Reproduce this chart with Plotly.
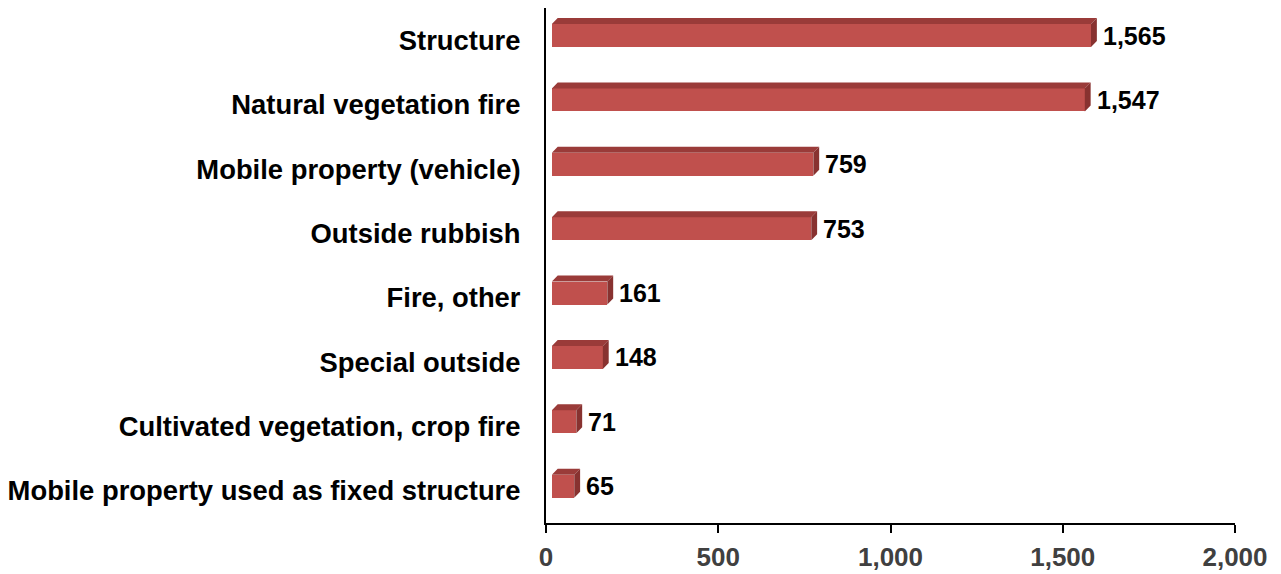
import plotly.graph_objects as go

categories = ["Structure", "Natural vegetation fire", "Mobile property (vehicle)",
              "Outside rubbish", "Fire, other", "Special outside",
              "Cultivated vegetation, crop fire", "Mobile property used as fixed structure"]
values = [1565, 1547, 759, 753, 161, 148, 71, 65]
x_ticks = [0, 500, 1000, 1500, 2000]
x_tick_labels = ["0", "500", "1,000", "1,500", "2,000"]

FRONT = "#C0504D"
TOP = "#9A3B39"
SIDE = "#883230"
FONT = "Liberation Sans, Arial"

ypos = list(range(len(categories)))
base = 17          # data-unit gap from axis to bar front face
dx = 17            # 3D depth in x (data units)
dy = 0.093         # 3D depth in y (category units)
shift = 0.072      # bar shifted up within band
half = 0.179       # half height of front face

fig = go.Figure()

# front faces
fig.add_trace(go.Bar(
    y=[y - shift for y in ypos], x=values, base=base, orientation="h",
    width=2 * half, marker=dict(color=FRONT, line=dict(width=0)),
    hoverinfo="skip", showlegend=False))

# top faces
tx, ty = [], []
for y, v in zip(ypos, values):
    yt = y - shift - half
    tx += [base, base + v, base + v + dx, base + dx, base, None]
    ty += [yt, yt, yt - dy, yt - dy, yt, None]
fig.add_trace(go.Scatter(x=tx, y=ty, fill="toself", fillcolor=TOP, mode="lines",
                         line=dict(width=0, color=TOP), hoverinfo="skip", showlegend=False))

# side faces
sx, sy = [], []
for y, v in zip(ypos, values):
    yt = y - shift - half
    yb = y - shift + half
    xr = base + v
    sx += [xr, xr + dx, xr + dx, xr, xr, None]
    sy += [yt, yt - dy, yb - dy, yb, yt, None]
fig.add_trace(go.Scatter(x=sx, y=sy, fill="toself", fillcolor=SIDE, mode="lines",
                         line=dict(width=0, color=SIDE), hoverinfo="skip", showlegend=False))

for y, v in zip(ypos, values):
    fig.add_annotation(x=base + v + dx, y=y - shift, text=f"<b>{v:,}</b>",
                       xanchor="left", yanchor="middle", showarrow=False, xshift=4,
                       font=dict(family=FONT, size=25, color="#000000"))

# page body has an 8px margin, so the figure is sized and offset to compensate
fig.update_layout(
    width=1273, height=566,
    margin=dict(l=538, r=46, t=0, b=51, autoexpand=False),
    paper_bgcolor="white", plot_bgcolor="white",
    font=dict(family=FONT, color="#000000"),
    bargap=0,
)
fig.update_xaxes(range=[0, 2000], tickvals=x_ticks,
                 ticktext=[f"<b>{t}</b>" for t in x_tick_labels], automargin=False,
                 showgrid=False, zeroline=False, showline=True, linecolor="#000000",
                 linewidth=2, ticks="outside", ticklen=8, tickwidth=2, tickcolor="#000000",
                 tickfont=dict(size=26, color="#404040", family=FONT),
                 ticklabelstandoff=2)
fig.update_yaxes(range=[7.5, -0.5], tickvals=ypos, automargin=False,
                 ticktext=[f"<b>{c}</b>" for c in categories],
                 showgrid=False, zeroline=False, showline=True, linecolor="#000000",
                 linewidth=2, ticks="", ticklabelstandoff=18,
                 tickfont=dict(size=27.4, color="#000000", family=FONT))

fig.write_html("out.html")
